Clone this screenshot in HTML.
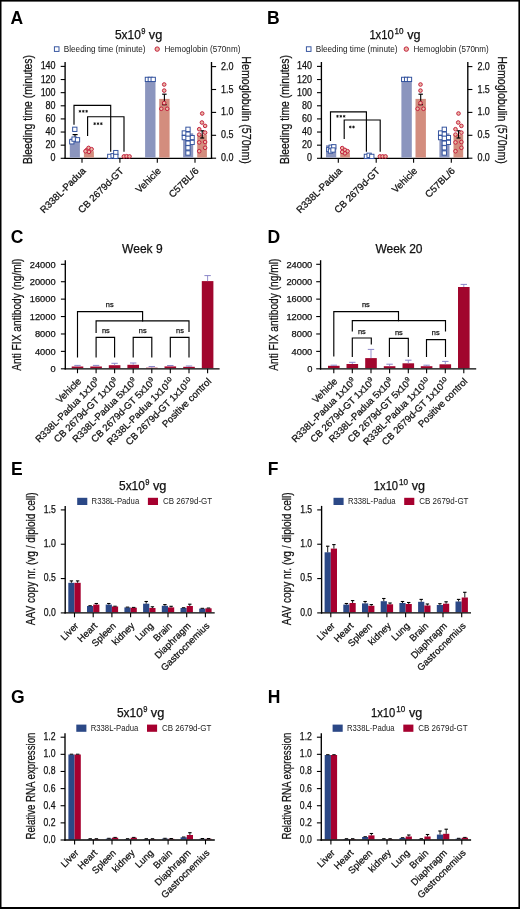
<!DOCTYPE html>
<html><head><meta charset="utf-8"><style>
html,body{margin:0;padding:0;background:#fff;}
svg{display:block;will-change:transform;}
text{font-family:"Liberation Sans", sans-serif;stroke:#111;stroke-width:0.25px;}
text[font-weight=bold]{stroke:none;}
</style></head><body>
<svg width="520" height="909" viewBox="0 0 520 909">
<rect width="520" height="909" fill="#fff"/>
<rect x="0.00" y="0.00" width="520.00" height="1.60" fill="#000"/>
<rect x="0.00" y="0.00" width="1.50" height="909.00" fill="#000"/>
<rect x="518.40" y="0.00" width="1.60" height="909.00" fill="#000"/>
<rect x="0.00" y="907.00" width="520.00" height="2.00" fill="#000"/>
<text x="114.90" y="38.90" font-size="12" text-anchor="start" fill="#111" font-weight="normal" textLength="25.90" lengthAdjust="spacingAndGlyphs">5x10</text>
<text x="141.20" y="33.90" font-size="8.2" text-anchor="start" fill="#111" font-weight="normal" textLength="4.20" lengthAdjust="spacingAndGlyphs">9</text>
<text x="148.80" y="38.90" font-size="12" text-anchor="start" fill="#111" font-weight="normal" textLength="13.50" lengthAdjust="spacingAndGlyphs">vg</text>
<text x="369.40" y="38.90" font-size="12" text-anchor="start" fill="#111" font-weight="normal" textLength="24.30" lengthAdjust="spacingAndGlyphs">1x10</text>
<text x="394.60" y="33.90" font-size="8.2" text-anchor="start" fill="#111" font-weight="normal" textLength="9.00" lengthAdjust="spacingAndGlyphs">10</text>
<text x="407.30" y="38.90" font-size="12" text-anchor="start" fill="#111" font-weight="normal" textLength="13.30" lengthAdjust="spacingAndGlyphs">vg</text>
<text x="119.00" y="489.60" font-size="12" text-anchor="start" fill="#111" font-weight="normal" textLength="25.90" lengthAdjust="spacingAndGlyphs">5x10</text>
<text x="145.30" y="484.60" font-size="8.2" text-anchor="start" fill="#111" font-weight="normal" textLength="4.20" lengthAdjust="spacingAndGlyphs">9</text>
<text x="152.90" y="489.60" font-size="12" text-anchor="start" fill="#111" font-weight="normal" textLength="13.50" lengthAdjust="spacingAndGlyphs">vg</text>
<text x="373.80" y="489.60" font-size="12" text-anchor="start" fill="#111" font-weight="normal" textLength="24.30" lengthAdjust="spacingAndGlyphs">1x10</text>
<text x="399.00" y="484.60" font-size="8.2" text-anchor="start" fill="#111" font-weight="normal" textLength="9.00" lengthAdjust="spacingAndGlyphs">10</text>
<text x="411.70" y="489.60" font-size="12" text-anchor="start" fill="#111" font-weight="normal" textLength="13.30" lengthAdjust="spacingAndGlyphs">vg</text>
<text x="116.90" y="716.90" font-size="12" text-anchor="start" fill="#111" font-weight="normal" textLength="25.90" lengthAdjust="spacingAndGlyphs">5x10</text>
<text x="143.20" y="711.90" font-size="8.2" text-anchor="start" fill="#111" font-weight="normal" textLength="4.20" lengthAdjust="spacingAndGlyphs">9</text>
<text x="150.80" y="716.90" font-size="12" text-anchor="start" fill="#111" font-weight="normal" textLength="13.50" lengthAdjust="spacingAndGlyphs">vg</text>
<text x="371.00" y="717.00" font-size="12" text-anchor="start" fill="#111" font-weight="normal" textLength="24.30" lengthAdjust="spacingAndGlyphs">1x10</text>
<text x="396.20" y="712.00" font-size="8.2" text-anchor="start" fill="#111" font-weight="normal" textLength="9.00" lengthAdjust="spacingAndGlyphs">10</text>
<text x="408.90" y="717.00" font-size="12" text-anchor="start" fill="#111" font-weight="normal" textLength="13.30" lengthAdjust="spacingAndGlyphs">vg</text>
<text x="10.60" y="23.80" font-size="17.5" text-anchor="start" fill="#000" font-weight="bold">A</text>
<text x="0.00" y="38.10" font-size="12" text-anchor="start" fill="#111" font-weight="normal"></text>
<rect x="54.40" y="46.80" width="4.60" height="4.60" fill="#fff" stroke="#2f4f9c" stroke-width="0.95"/>
<text x="63.80" y="51.90" font-size="8.2" text-anchor="start" fill="#222" font-weight="normal" textLength="81.80" lengthAdjust="spacingAndGlyphs" style="stroke:none">Bleeding time (minute)</text>
<circle cx="157.20" cy="49.10" r="2.2" fill="#e9b9a6" stroke="#c41f3c" stroke-width="1.0"/>
<text x="164.40" y="51.90" font-size="8.2" text-anchor="start" fill="#222" font-weight="normal" textLength="76.00" lengthAdjust="spacingAndGlyphs" style="stroke:none">Hemoglobin (570nm)</text>
<line x1="65.10" y1="62.00" x2="65.10" y2="158.90" stroke="#000" stroke-width="1.35"/>
<line x1="60.70" y1="158.30" x2="65.10" y2="158.30" stroke="#000" stroke-width="1.1"/>
<text x="55.60" y="161.30" font-size="10.2" text-anchor="end" fill="#111" font-weight="normal" textLength="4.99" lengthAdjust="spacingAndGlyphs">0</text>
<line x1="60.70" y1="145.17" x2="65.10" y2="145.17" stroke="#000" stroke-width="1.1"/>
<text x="55.60" y="148.17" font-size="10.2" text-anchor="end" fill="#111" font-weight="normal" textLength="9.98" lengthAdjust="spacingAndGlyphs">20</text>
<line x1="60.70" y1="132.04" x2="65.10" y2="132.04" stroke="#000" stroke-width="1.1"/>
<text x="55.60" y="135.04" font-size="10.2" text-anchor="end" fill="#111" font-weight="normal" textLength="9.98" lengthAdjust="spacingAndGlyphs">40</text>
<line x1="60.70" y1="118.91" x2="65.10" y2="118.91" stroke="#000" stroke-width="1.1"/>
<text x="55.60" y="121.91" font-size="10.2" text-anchor="end" fill="#111" font-weight="normal" textLength="9.98" lengthAdjust="spacingAndGlyphs">60</text>
<line x1="60.70" y1="105.79" x2="65.10" y2="105.79" stroke="#000" stroke-width="1.1"/>
<text x="55.60" y="108.79" font-size="10.2" text-anchor="end" fill="#111" font-weight="normal" textLength="9.98" lengthAdjust="spacingAndGlyphs">80</text>
<line x1="60.70" y1="92.66" x2="65.10" y2="92.66" stroke="#000" stroke-width="1.1"/>
<text x="55.60" y="95.66" font-size="10.2" text-anchor="end" fill="#111" font-weight="normal" textLength="14.97" lengthAdjust="spacingAndGlyphs">100</text>
<line x1="60.70" y1="79.53" x2="65.10" y2="79.53" stroke="#000" stroke-width="1.1"/>
<text x="55.60" y="82.53" font-size="10.2" text-anchor="end" fill="#111" font-weight="normal" textLength="14.97" lengthAdjust="spacingAndGlyphs">120</text>
<line x1="60.70" y1="66.40" x2="65.10" y2="66.40" stroke="#000" stroke-width="1.1"/>
<text x="55.60" y="69.40" font-size="10.2" text-anchor="end" fill="#111" font-weight="normal" textLength="14.97" lengthAdjust="spacingAndGlyphs">140</text>
<line x1="211.50" y1="62.00" x2="211.50" y2="158.90" stroke="#000" stroke-width="1.35"/>
<line x1="211.50" y1="158.20" x2="216.10" y2="158.20" stroke="#000" stroke-width="1.1"/>
<text x="221.10" y="161.20" font-size="10.2" text-anchor="start" fill="#111" font-weight="normal" textLength="12.48" lengthAdjust="spacingAndGlyphs">0.0</text>
<line x1="211.50" y1="135.30" x2="216.10" y2="135.30" stroke="#000" stroke-width="1.1"/>
<text x="221.10" y="138.30" font-size="10.2" text-anchor="start" fill="#111" font-weight="normal" textLength="12.48" lengthAdjust="spacingAndGlyphs">0.5</text>
<line x1="211.50" y1="112.40" x2="216.10" y2="112.40" stroke="#000" stroke-width="1.1"/>
<text x="221.10" y="115.40" font-size="10.2" text-anchor="start" fill="#111" font-weight="normal" textLength="12.48" lengthAdjust="spacingAndGlyphs">1.0</text>
<line x1="211.50" y1="89.50" x2="216.10" y2="89.50" stroke="#000" stroke-width="1.1"/>
<text x="221.10" y="92.50" font-size="10.2" text-anchor="start" fill="#111" font-weight="normal" textLength="12.48" lengthAdjust="spacingAndGlyphs">1.5</text>
<line x1="211.50" y1="66.60" x2="216.10" y2="66.60" stroke="#000" stroke-width="1.1"/>
<text x="221.10" y="69.60" font-size="10.2" text-anchor="start" fill="#111" font-weight="normal" textLength="12.48" lengthAdjust="spacingAndGlyphs">2.0</text>
<line x1="64.40" y1="158.30" x2="212.20" y2="158.30" stroke="#000" stroke-width="1.35"/>
<line x1="82.00" y1="158.30" x2="82.00" y2="162.80" stroke="#000" stroke-width="1.1"/>
<line x1="119.90" y1="158.30" x2="119.90" y2="162.80" stroke="#000" stroke-width="1.1"/>
<line x1="157.30" y1="158.30" x2="157.30" y2="162.80" stroke="#000" stroke-width="1.1"/>
<line x1="195.00" y1="158.30" x2="195.00" y2="162.80" stroke="#000" stroke-width="1.1"/>
<text transform="translate(32.30,164.00) rotate(-90)" font-size="12.7" text-anchor="start" fill="#111" font-weight="normal" textLength="109.00" lengthAdjust="spacingAndGlyphs">Bleeding time (minutes)</text>
<text transform="translate(242.40,56.30) rotate(90)" font-size="12.7" text-anchor="start" fill="#111" font-weight="normal" textLength="107.60" lengthAdjust="spacingAndGlyphs">Hemoglobulin (570nm)</text>
<text transform="translate(86.30,171.50) rotate(-45)" font-size="9.7" text-anchor="end" fill="#111" font-weight="normal">R338L-Padua</text>
<text transform="translate(124.20,171.50) rotate(-45)" font-size="9.7" text-anchor="end" fill="#111" font-weight="normal">CB 2679d-GT</text>
<text transform="translate(161.60,171.50) rotate(-45)" font-size="9.7" text-anchor="end" fill="#111" font-weight="normal">Vehicle</text>
<text transform="translate(199.30,171.50) rotate(-45)" font-size="9.7" text-anchor="end" fill="#111" font-weight="normal">C57BL/6</text>
<text x="266.90" y="23.80" font-size="17.5" text-anchor="start" fill="#000" font-weight="bold">B</text>
<text x="256.30" y="38.10" font-size="12" text-anchor="start" fill="#111" font-weight="normal"></text>
<rect x="306.40" y="46.80" width="4.60" height="4.60" fill="#fff" stroke="#2f4f9c" stroke-width="0.95"/>
<text x="315.70" y="51.90" font-size="8.2" text-anchor="start" fill="#222" font-weight="normal" textLength="81.90" lengthAdjust="spacingAndGlyphs" style="stroke:none">Bleeding time (minute)</text>
<circle cx="406.30" cy="49.10" r="2.2" fill="#e9b9a6" stroke="#c41f3c" stroke-width="1.0"/>
<text x="413.40" y="51.90" font-size="8.2" text-anchor="start" fill="#222" font-weight="normal" textLength="75.40" lengthAdjust="spacingAndGlyphs" style="stroke:none">Hemoglobin (570nm)</text>
<line x1="321.40" y1="62.00" x2="321.40" y2="158.90" stroke="#000" stroke-width="1.35"/>
<line x1="317.00" y1="158.30" x2="321.40" y2="158.30" stroke="#000" stroke-width="1.1"/>
<text x="311.90" y="161.30" font-size="10.2" text-anchor="end" fill="#111" font-weight="normal" textLength="4.99" lengthAdjust="spacingAndGlyphs">0</text>
<line x1="317.00" y1="145.17" x2="321.40" y2="145.17" stroke="#000" stroke-width="1.1"/>
<text x="311.90" y="148.17" font-size="10.2" text-anchor="end" fill="#111" font-weight="normal" textLength="9.98" lengthAdjust="spacingAndGlyphs">20</text>
<line x1="317.00" y1="132.04" x2="321.40" y2="132.04" stroke="#000" stroke-width="1.1"/>
<text x="311.90" y="135.04" font-size="10.2" text-anchor="end" fill="#111" font-weight="normal" textLength="9.98" lengthAdjust="spacingAndGlyphs">40</text>
<line x1="317.00" y1="118.91" x2="321.40" y2="118.91" stroke="#000" stroke-width="1.1"/>
<text x="311.90" y="121.91" font-size="10.2" text-anchor="end" fill="#111" font-weight="normal" textLength="9.98" lengthAdjust="spacingAndGlyphs">60</text>
<line x1="317.00" y1="105.79" x2="321.40" y2="105.79" stroke="#000" stroke-width="1.1"/>
<text x="311.90" y="108.79" font-size="10.2" text-anchor="end" fill="#111" font-weight="normal" textLength="9.98" lengthAdjust="spacingAndGlyphs">80</text>
<line x1="317.00" y1="92.66" x2="321.40" y2="92.66" stroke="#000" stroke-width="1.1"/>
<text x="311.90" y="95.66" font-size="10.2" text-anchor="end" fill="#111" font-weight="normal" textLength="14.97" lengthAdjust="spacingAndGlyphs">100</text>
<line x1="317.00" y1="79.53" x2="321.40" y2="79.53" stroke="#000" stroke-width="1.1"/>
<text x="311.90" y="82.53" font-size="10.2" text-anchor="end" fill="#111" font-weight="normal" textLength="14.97" lengthAdjust="spacingAndGlyphs">120</text>
<line x1="317.00" y1="66.40" x2="321.40" y2="66.40" stroke="#000" stroke-width="1.1"/>
<text x="311.90" y="69.40" font-size="10.2" text-anchor="end" fill="#111" font-weight="normal" textLength="14.97" lengthAdjust="spacingAndGlyphs">140</text>
<line x1="467.80" y1="62.00" x2="467.80" y2="158.90" stroke="#000" stroke-width="1.35"/>
<line x1="467.80" y1="158.20" x2="472.40" y2="158.20" stroke="#000" stroke-width="1.1"/>
<text x="477.40" y="161.20" font-size="10.2" text-anchor="start" fill="#111" font-weight="normal" textLength="12.48" lengthAdjust="spacingAndGlyphs">0.0</text>
<line x1="467.80" y1="135.30" x2="472.40" y2="135.30" stroke="#000" stroke-width="1.1"/>
<text x="477.40" y="138.30" font-size="10.2" text-anchor="start" fill="#111" font-weight="normal" textLength="12.48" lengthAdjust="spacingAndGlyphs">0.5</text>
<line x1="467.80" y1="112.40" x2="472.40" y2="112.40" stroke="#000" stroke-width="1.1"/>
<text x="477.40" y="115.40" font-size="10.2" text-anchor="start" fill="#111" font-weight="normal" textLength="12.48" lengthAdjust="spacingAndGlyphs">1.0</text>
<line x1="467.80" y1="89.50" x2="472.40" y2="89.50" stroke="#000" stroke-width="1.1"/>
<text x="477.40" y="92.50" font-size="10.2" text-anchor="start" fill="#111" font-weight="normal" textLength="12.48" lengthAdjust="spacingAndGlyphs">1.5</text>
<line x1="467.80" y1="66.60" x2="472.40" y2="66.60" stroke="#000" stroke-width="1.1"/>
<text x="477.40" y="69.60" font-size="10.2" text-anchor="start" fill="#111" font-weight="normal" textLength="12.48" lengthAdjust="spacingAndGlyphs">2.0</text>
<line x1="320.70" y1="158.30" x2="468.50" y2="158.30" stroke="#000" stroke-width="1.35"/>
<line x1="338.30" y1="158.30" x2="338.30" y2="162.80" stroke="#000" stroke-width="1.1"/>
<line x1="376.20" y1="158.30" x2="376.20" y2="162.80" stroke="#000" stroke-width="1.1"/>
<line x1="413.60" y1="158.30" x2="413.60" y2="162.80" stroke="#000" stroke-width="1.1"/>
<line x1="451.30" y1="158.30" x2="451.30" y2="162.80" stroke="#000" stroke-width="1.1"/>
<text transform="translate(288.60,164.00) rotate(-90)" font-size="12.7" text-anchor="start" fill="#111" font-weight="normal" textLength="109.00" lengthAdjust="spacingAndGlyphs">Bleeding time (minutes)</text>
<text transform="translate(497.60,56.30) rotate(90)" font-size="12.7" text-anchor="start" fill="#111" font-weight="normal" textLength="107.60" lengthAdjust="spacingAndGlyphs">Hemoglobulin (570nm)</text>
<text transform="translate(342.60,171.50) rotate(-45)" font-size="9.7" text-anchor="end" fill="#111" font-weight="normal">R338L-Padua</text>
<text transform="translate(380.50,171.50) rotate(-45)" font-size="9.7" text-anchor="end" fill="#111" font-weight="normal">CB 2679d-GT</text>
<text transform="translate(417.90,171.50) rotate(-45)" font-size="9.7" text-anchor="end" fill="#111" font-weight="normal">Vehicle</text>
<text transform="translate(455.60,171.50) rotate(-45)" font-size="9.7" text-anchor="end" fill="#111" font-weight="normal">C57BL/6</text>
<rect x="69.80" y="138.50" width="10.10" height="19.10" fill="#8b95be"/>
<rect x="83.90" y="151.20" width="10.00" height="6.40" fill="#d38d7e"/>
<rect x="107.60" y="155.30" width="10.00" height="2.30" fill="#8b95be"/>
<rect x="121.60" y="156.60" width="10.00" height="1.00" fill="#d38d7e"/>
<rect x="145.10" y="77.40" width="10.40" height="80.20" fill="#8b95be"/>
<rect x="159.20" y="98.90" width="10.40" height="58.70" fill="#d38d7e"/>
<rect x="183.10" y="133.30" width="10.10" height="24.30" fill="#8b95be"/>
<rect x="197.20" y="134.60" width="9.70" height="23.00" fill="#d38d7e"/>
<polyline points="74.00,124.20 74.00,105.40 110.70,105.40 110.70,151.20" fill="none" stroke="#000" stroke-width="1.15" stroke-linejoin="miter" stroke-linecap="square"/>
<polyline points="87.60,135.50 87.60,116.70 124.00,116.70 124.00,151.20" fill="none" stroke="#000" stroke-width="1.15" stroke-linejoin="miter" stroke-linecap="square"/>
<path d="M79.97,109.95L79.97,112.65M78.80,110.62L81.14,111.97M78.80,111.97L81.14,110.62" stroke="#111" stroke-width="0.85" fill="none"/>
<path d="M83.30,109.95L83.30,112.65M82.13,110.62L84.47,111.97M82.13,111.97L84.47,110.62" stroke="#111" stroke-width="0.85" fill="none"/>
<path d="M86.63,109.95L86.63,112.65M85.46,110.62L87.80,111.97M85.46,111.97L87.80,110.62" stroke="#111" stroke-width="0.85" fill="none"/>
<path d="M94.67,122.35L94.67,125.05M93.50,123.03L95.84,124.38M93.50,124.38L95.84,123.03" stroke="#111" stroke-width="0.85" fill="none"/>
<path d="M98.00,122.35L98.00,125.05M96.83,123.03L99.17,124.38M96.83,124.38L99.17,123.03" stroke="#111" stroke-width="0.85" fill="none"/>
<path d="M101.33,122.35L101.33,125.05M100.16,123.03L102.50,124.38M100.16,124.38L102.50,123.03" stroke="#111" stroke-width="0.85" fill="none"/>
<line x1="75.00" y1="138.50" x2="75.00" y2="134.60" stroke="#000" stroke-width="1.1"/>
<line x1="72.60" y1="134.60" x2="77.60" y2="134.60" stroke="#000" stroke-width="1.2"/>
<rect x="72.65" y="127.15" width="4.30" height="4.30" fill="#fff" stroke="#2f4f9c" stroke-width="0.95"/>
<rect x="69.65" y="139.65" width="4.30" height="4.30" fill="#fff" stroke="#2f4f9c" stroke-width="0.95"/>
<rect x="71.95" y="136.95" width="4.30" height="4.30" fill="#fff" stroke="#2f4f9c" stroke-width="0.95"/>
<rect x="75.35" y="137.65" width="4.30" height="4.30" fill="#fff" stroke="#2f4f9c" stroke-width="0.95"/>
<circle cx="86.90" cy="149.90" r="1.8" fill="#e9b9a6" stroke="#c41f3c" stroke-width="1.0"/>
<circle cx="88.60" cy="147.90" r="1.8" fill="#e9b9a6" stroke="#c41f3c" stroke-width="1.0"/>
<circle cx="91.60" cy="149.20" r="1.8" fill="#e9b9a6" stroke="#c41f3c" stroke-width="1.0"/>
<circle cx="88.90" cy="151.90" r="1.8" fill="#e9b9a6" stroke="#c41f3c" stroke-width="1.0"/>
<circle cx="85.50" cy="151.20" r="1.8" fill="#e9b9a6" stroke="#c41f3c" stroke-width="1.0"/>
<rect x="107.65" y="154.25" width="4.30" height="4.30" fill="#fff" stroke="#2f4f9c" stroke-width="0.95"/>
<rect x="110.95" y="153.65" width="4.30" height="4.30" fill="#fff" stroke="#2f4f9c" stroke-width="0.95"/>
<rect x="113.65" y="150.45" width="4.30" height="4.30" fill="#fff" stroke="#2f4f9c" stroke-width="0.95"/>
<rect x="113.65" y="154.25" width="4.30" height="4.30" fill="#fff" stroke="#2f4f9c" stroke-width="0.95"/>
<circle cx="123.90" cy="156.40" r="1.8" fill="#e9b9a6" stroke="#c41f3c" stroke-width="1.0"/>
<circle cx="126.60" cy="156.20" r="1.8" fill="#e9b9a6" stroke="#c41f3c" stroke-width="1.0"/>
<circle cx="129.50" cy="156.40" r="1.8" fill="#e9b9a6" stroke="#c41f3c" stroke-width="1.0"/>
<rect x="145.25" y="77.25" width="4.30" height="4.30" fill="#fff" stroke="#2f4f9c" stroke-width="0.95"/>
<rect x="148.15" y="77.25" width="4.30" height="4.30" fill="#fff" stroke="#2f4f9c" stroke-width="0.95"/>
<rect x="151.05" y="77.25" width="4.30" height="4.30" fill="#fff" stroke="#2f4f9c" stroke-width="0.95"/>
<line x1="164.40" y1="94.20" x2="164.40" y2="104.70" stroke="#000" stroke-width="1.1"/>
<line x1="162.20" y1="94.20" x2="166.60" y2="94.20" stroke="#000" stroke-width="1.2"/>
<line x1="162.20" y1="104.70" x2="166.60" y2="104.70" stroke="#000" stroke-width="1.2"/>
<circle cx="164.20" cy="84.50" r="1.8" fill="#e9b9a6" stroke="#c41f3c" stroke-width="1.0"/>
<circle cx="164.20" cy="90.60" r="1.8" fill="#e9b9a6" stroke="#c41f3c" stroke-width="1.0"/>
<circle cx="164.20" cy="103.00" r="1.8" fill="#e9b9a6" stroke="#c41f3c" stroke-width="1.0"/>
<circle cx="161.30" cy="108.80" r="1.8" fill="#e9b9a6" stroke="#c41f3c" stroke-width="1.0"/>
<circle cx="167.20" cy="108.80" r="1.8" fill="#e9b9a6" stroke="#c41f3c" stroke-width="1.0"/>
<rect x="182.15" y="130.85" width="4.30" height="4.30" fill="#fff" stroke="#2f4f9c" stroke-width="0.95"/>
<rect x="182.15" y="135.45" width="4.30" height="4.30" fill="#fff" stroke="#2f4f9c" stroke-width="0.95"/>
<rect x="189.95" y="135.45" width="4.30" height="4.30" fill="#fff" stroke="#2f4f9c" stroke-width="0.95"/>
<rect x="189.95" y="140.25" width="4.30" height="4.30" fill="#fff" stroke="#2f4f9c" stroke-width="0.95"/>
<rect x="185.85" y="127.15" width="4.30" height="4.30" fill="#fff" stroke="#2f4f9c" stroke-width="0.95"/>
<rect x="185.85" y="132.05" width="4.30" height="4.30" fill="#fff" stroke="#2f4f9c" stroke-width="0.95"/>
<rect x="185.85" y="136.15" width="4.30" height="4.30" fill="#fff" stroke="#2f4f9c" stroke-width="0.95"/>
<rect x="185.85" y="141.05" width="4.30" height="4.30" fill="#fff" stroke="#2f4f9c" stroke-width="0.95"/>
<rect x="185.85" y="145.65" width="4.30" height="4.30" fill="#fff" stroke="#2f4f9c" stroke-width="0.95"/>
<rect x="185.85" y="150.85" width="4.30" height="4.30" fill="#fff" stroke="#2f4f9c" stroke-width="0.95"/>
<line x1="202.20" y1="130.80" x2="202.20" y2="138.00" stroke="#000" stroke-width="1.1"/>
<line x1="200.20" y1="130.80" x2="204.20" y2="130.80" stroke="#000" stroke-width="1.2"/>
<line x1="200.20" y1="138.00" x2="204.20" y2="138.00" stroke="#000" stroke-width="1.2"/>
<circle cx="202.20" cy="113.50" r="1.8" fill="#e9b9a6" stroke="#c41f3c" stroke-width="1.0"/>
<circle cx="201.90" cy="122.50" r="1.8" fill="#e9b9a6" stroke="#c41f3c" stroke-width="1.0"/>
<circle cx="205.10" cy="125.90" r="1.8" fill="#e9b9a6" stroke="#c41f3c" stroke-width="1.0"/>
<circle cx="199.20" cy="129.20" r="1.8" fill="#e9b9a6" stroke="#c41f3c" stroke-width="1.0"/>
<circle cx="205.10" cy="132.60" r="1.8" fill="#e9b9a6" stroke="#c41f3c" stroke-width="1.0"/>
<circle cx="199.20" cy="134.60" r="1.8" fill="#e9b9a6" stroke="#c41f3c" stroke-width="1.0"/>
<circle cx="199.20" cy="142.40" r="1.8" fill="#e9b9a6" stroke="#c41f3c" stroke-width="1.0"/>
<circle cx="205.10" cy="142.00" r="1.8" fill="#e9b9a6" stroke="#c41f3c" stroke-width="1.0"/>
<circle cx="205.10" cy="147.80" r="1.8" fill="#e9b9a6" stroke="#c41f3c" stroke-width="1.0"/>
<circle cx="199.20" cy="151.20" r="1.8" fill="#e9b9a6" stroke="#c41f3c" stroke-width="1.0"/>
<rect x="326.00" y="145.20" width="10.20" height="12.40" fill="#8b95be"/>
<rect x="340.20" y="152.60" width="9.70" height="5.00" fill="#d38d7e"/>
<rect x="363.90" y="155.80" width="10.00" height="1.80" fill="#8b95be"/>
<rect x="377.90" y="156.80" width="10.00" height="0.80" fill="#d38d7e"/>
<rect x="401.40" y="77.40" width="10.40" height="80.20" fill="#8b95be"/>
<rect x="415.50" y="98.90" width="10.40" height="58.70" fill="#d38d7e"/>
<rect x="439.40" y="133.30" width="10.10" height="24.30" fill="#8b95be"/>
<rect x="453.50" y="134.60" width="9.70" height="23.00" fill="#d38d7e"/>
<polyline points="330.50,140.50 330.50,111.90 366.40,111.90 366.40,151.20" fill="none" stroke="#000" stroke-width="1.15" stroke-linejoin="miter" stroke-linecap="square"/>
<polyline points="344.20,138.50 344.20,120.00 380.20,120.00 380.20,151.20" fill="none" stroke="#000" stroke-width="1.15" stroke-linejoin="miter" stroke-linecap="square"/>
<path d="M337.47,114.95L337.47,117.65M336.30,115.62L338.64,116.97M336.30,116.97L338.64,115.62" stroke="#111" stroke-width="0.85" fill="none"/>
<path d="M340.80,114.95L340.80,117.65M339.63,115.62L341.97,116.97M339.63,116.97L341.97,115.62" stroke="#111" stroke-width="0.85" fill="none"/>
<path d="M344.13,114.95L344.13,117.65M342.96,115.62L345.30,116.97M342.96,116.97L345.30,115.62" stroke="#111" stroke-width="0.85" fill="none"/>
<path d="M350.30,125.65L350.30,128.35M349.13,126.33L351.47,127.67M349.13,127.67L351.47,126.33" stroke="#111" stroke-width="0.85" fill="none"/>
<path d="M353.50,125.65L353.50,128.35M352.33,126.33L354.67,127.67M352.33,127.67L354.67,126.33" stroke="#111" stroke-width="0.85" fill="none"/>
<rect x="326.65" y="147.35" width="4.30" height="4.30" fill="#fff" stroke="#2f4f9c" stroke-width="0.95"/>
<rect x="329.05" y="145.05" width="4.30" height="4.30" fill="#fff" stroke="#2f4f9c" stroke-width="0.95"/>
<rect x="331.65" y="144.65" width="4.30" height="4.30" fill="#fff" stroke="#2f4f9c" stroke-width="0.95"/>
<rect x="328.35" y="148.85" width="4.30" height="4.30" fill="#fff" stroke="#2f4f9c" stroke-width="0.95"/>
<rect x="330.85" y="147.85" width="4.30" height="4.30" fill="#fff" stroke="#2f4f9c" stroke-width="0.95"/>
<circle cx="342.20" cy="148.10" r="1.8" fill="#e9b9a6" stroke="#c41f3c" stroke-width="1.0"/>
<circle cx="344.90" cy="149.90" r="1.8" fill="#e9b9a6" stroke="#c41f3c" stroke-width="1.0"/>
<circle cx="347.60" cy="151.20" r="1.8" fill="#e9b9a6" stroke="#c41f3c" stroke-width="1.0"/>
<circle cx="344.90" cy="153.30" r="1.8" fill="#e9b9a6" stroke="#c41f3c" stroke-width="1.0"/>
<circle cx="342.20" cy="151.90" r="1.8" fill="#e9b9a6" stroke="#c41f3c" stroke-width="1.0"/>
<rect x="364.25" y="154.25" width="4.30" height="4.30" fill="#fff" stroke="#2f4f9c" stroke-width="0.95"/>
<rect x="366.95" y="153.15" width="4.30" height="4.30" fill="#fff" stroke="#2f4f9c" stroke-width="0.95"/>
<rect x="369.65" y="154.25" width="4.30" height="4.30" fill="#fff" stroke="#2f4f9c" stroke-width="0.95"/>
<circle cx="379.90" cy="156.40" r="1.8" fill="#e9b9a6" stroke="#c41f3c" stroke-width="1.0"/>
<circle cx="382.60" cy="156.40" r="1.8" fill="#e9b9a6" stroke="#c41f3c" stroke-width="1.0"/>
<circle cx="385.50" cy="156.40" r="1.8" fill="#e9b9a6" stroke="#c41f3c" stroke-width="1.0"/>
<rect x="401.55" y="77.25" width="4.30" height="4.30" fill="#fff" stroke="#2f4f9c" stroke-width="0.95"/>
<rect x="404.45" y="77.25" width="4.30" height="4.30" fill="#fff" stroke="#2f4f9c" stroke-width="0.95"/>
<rect x="407.35" y="77.25" width="4.30" height="4.30" fill="#fff" stroke="#2f4f9c" stroke-width="0.95"/>
<line x1="420.70" y1="94.20" x2="420.70" y2="104.70" stroke="#000" stroke-width="1.1"/>
<line x1="418.50" y1="94.20" x2="422.90" y2="94.20" stroke="#000" stroke-width="1.2"/>
<line x1="418.50" y1="104.70" x2="422.90" y2="104.70" stroke="#000" stroke-width="1.2"/>
<circle cx="420.50" cy="84.50" r="1.8" fill="#e9b9a6" stroke="#c41f3c" stroke-width="1.0"/>
<circle cx="420.50" cy="90.60" r="1.8" fill="#e9b9a6" stroke="#c41f3c" stroke-width="1.0"/>
<circle cx="420.50" cy="103.00" r="1.8" fill="#e9b9a6" stroke="#c41f3c" stroke-width="1.0"/>
<circle cx="417.60" cy="108.80" r="1.8" fill="#e9b9a6" stroke="#c41f3c" stroke-width="1.0"/>
<circle cx="423.50" cy="108.80" r="1.8" fill="#e9b9a6" stroke="#c41f3c" stroke-width="1.0"/>
<rect x="438.45" y="130.85" width="4.30" height="4.30" fill="#fff" stroke="#2f4f9c" stroke-width="0.95"/>
<rect x="438.45" y="135.45" width="4.30" height="4.30" fill="#fff" stroke="#2f4f9c" stroke-width="0.95"/>
<rect x="446.25" y="135.45" width="4.30" height="4.30" fill="#fff" stroke="#2f4f9c" stroke-width="0.95"/>
<rect x="446.25" y="140.25" width="4.30" height="4.30" fill="#fff" stroke="#2f4f9c" stroke-width="0.95"/>
<rect x="442.15" y="127.15" width="4.30" height="4.30" fill="#fff" stroke="#2f4f9c" stroke-width="0.95"/>
<rect x="442.15" y="132.05" width="4.30" height="4.30" fill="#fff" stroke="#2f4f9c" stroke-width="0.95"/>
<rect x="442.15" y="136.15" width="4.30" height="4.30" fill="#fff" stroke="#2f4f9c" stroke-width="0.95"/>
<rect x="442.15" y="141.05" width="4.30" height="4.30" fill="#fff" stroke="#2f4f9c" stroke-width="0.95"/>
<rect x="442.15" y="145.65" width="4.30" height="4.30" fill="#fff" stroke="#2f4f9c" stroke-width="0.95"/>
<rect x="442.15" y="150.85" width="4.30" height="4.30" fill="#fff" stroke="#2f4f9c" stroke-width="0.95"/>
<line x1="458.50" y1="130.80" x2="458.50" y2="138.00" stroke="#000" stroke-width="1.1"/>
<line x1="456.50" y1="130.80" x2="460.50" y2="130.80" stroke="#000" stroke-width="1.2"/>
<line x1="456.50" y1="138.00" x2="460.50" y2="138.00" stroke="#000" stroke-width="1.2"/>
<circle cx="458.50" cy="113.50" r="1.8" fill="#e9b9a6" stroke="#c41f3c" stroke-width="1.0"/>
<circle cx="458.20" cy="122.50" r="1.8" fill="#e9b9a6" stroke="#c41f3c" stroke-width="1.0"/>
<circle cx="461.40" cy="125.90" r="1.8" fill="#e9b9a6" stroke="#c41f3c" stroke-width="1.0"/>
<circle cx="455.50" cy="129.20" r="1.8" fill="#e9b9a6" stroke="#c41f3c" stroke-width="1.0"/>
<circle cx="461.40" cy="132.60" r="1.8" fill="#e9b9a6" stroke="#c41f3c" stroke-width="1.0"/>
<circle cx="455.50" cy="134.60" r="1.8" fill="#e9b9a6" stroke="#c41f3c" stroke-width="1.0"/>
<circle cx="455.50" cy="142.40" r="1.8" fill="#e9b9a6" stroke="#c41f3c" stroke-width="1.0"/>
<circle cx="461.40" cy="142.00" r="1.8" fill="#e9b9a6" stroke="#c41f3c" stroke-width="1.0"/>
<circle cx="461.40" cy="147.80" r="1.8" fill="#e9b9a6" stroke="#c41f3c" stroke-width="1.0"/>
<circle cx="455.50" cy="151.20" r="1.8" fill="#e9b9a6" stroke="#c41f3c" stroke-width="1.0"/>
<text x="10.80" y="242.60" font-size="17.5" text-anchor="start" fill="#000" font-weight="bold">C</text>
<text x="122.10" y="253.30" font-size="12" text-anchor="start" fill="#111" font-weight="normal">Week 9</text>
<rect x="71.70" y="366.50" width="11.60" height="1.70" fill="#a1062d"/>
<line x1="77.50" y1="365.40" x2="77.50" y2="366.50" stroke="#8a86c8" stroke-width="0.9"/>
<line x1="74.30" y1="365.40" x2="80.70" y2="365.40" stroke="#8a86c8" stroke-width="1.0"/>
<rect x="90.30" y="366.50" width="11.60" height="1.70" fill="#a1062d"/>
<line x1="96.10" y1="365.40" x2="96.10" y2="366.50" stroke="#8a86c8" stroke-width="0.9"/>
<line x1="92.90" y1="365.40" x2="99.30" y2="365.40" stroke="#8a86c8" stroke-width="1.0"/>
<rect x="108.80" y="365.20" width="11.60" height="3.00" fill="#a1062d"/>
<line x1="114.60" y1="363.30" x2="114.60" y2="365.20" stroke="#8a86c8" stroke-width="0.9"/>
<line x1="111.40" y1="363.30" x2="117.80" y2="363.30" stroke="#8a86c8" stroke-width="1.0"/>
<rect x="127.40" y="364.80" width="11.60" height="3.40" fill="#a1062d"/>
<line x1="133.20" y1="363.00" x2="133.20" y2="364.80" stroke="#8a86c8" stroke-width="0.9"/>
<line x1="130.00" y1="363.00" x2="136.40" y2="363.00" stroke="#8a86c8" stroke-width="1.0"/>
<rect x="146.00" y="367.70" width="11.60" height="0.50" fill="#a1062d"/>
<line x1="151.80" y1="366.50" x2="151.80" y2="367.70" stroke="#8a86c8" stroke-width="0.9"/>
<line x1="148.60" y1="366.50" x2="155.00" y2="366.50" stroke="#8a86c8" stroke-width="1.0"/>
<rect x="164.50" y="366.40" width="11.60" height="1.80" fill="#a1062d"/>
<line x1="170.30" y1="365.50" x2="170.30" y2="366.40" stroke="#8a86c8" stroke-width="0.9"/>
<line x1="167.10" y1="365.50" x2="173.50" y2="365.50" stroke="#8a86c8" stroke-width="1.0"/>
<rect x="183.20" y="366.80" width="11.60" height="1.40" fill="#a1062d"/>
<line x1="189.00" y1="366.00" x2="189.00" y2="366.80" stroke="#8a86c8" stroke-width="0.9"/>
<line x1="185.80" y1="366.00" x2="192.20" y2="366.00" stroke="#8a86c8" stroke-width="1.0"/>
<rect x="201.80" y="281.10" width="11.60" height="87.10" fill="#a1062d"/>
<line x1="207.60" y1="275.60" x2="207.60" y2="281.10" stroke="#8a86c8" stroke-width="0.9"/>
<line x1="204.40" y1="275.60" x2="210.80" y2="275.60" stroke="#8a86c8" stroke-width="1.0"/>
<line x1="65.30" y1="260.20" x2="65.30" y2="369.50" stroke="#000" stroke-width="1.35"/>
<line x1="60.90" y1="368.80" x2="65.30" y2="368.80" stroke="#000" stroke-width="1.1"/>
<text x="55.60" y="372.00" font-size="9.3" text-anchor="end" fill="#111" font-weight="normal" textLength="5.17" lengthAdjust="spacingAndGlyphs">0</text>
<line x1="60.90" y1="351.38" x2="65.30" y2="351.38" stroke="#000" stroke-width="1.1"/>
<text x="55.60" y="354.58" font-size="9.3" text-anchor="end" fill="#111" font-weight="normal" textLength="20.69" lengthAdjust="spacingAndGlyphs">4000</text>
<line x1="60.90" y1="333.97" x2="65.30" y2="333.97" stroke="#000" stroke-width="1.1"/>
<text x="55.60" y="337.17" font-size="9.3" text-anchor="end" fill="#111" font-weight="normal" textLength="20.69" lengthAdjust="spacingAndGlyphs">8000</text>
<line x1="60.90" y1="316.55" x2="65.30" y2="316.55" stroke="#000" stroke-width="1.1"/>
<text x="55.60" y="319.75" font-size="9.3" text-anchor="end" fill="#111" font-weight="normal" textLength="25.86" lengthAdjust="spacingAndGlyphs">12000</text>
<line x1="60.90" y1="299.13" x2="65.30" y2="299.13" stroke="#000" stroke-width="1.1"/>
<text x="55.60" y="302.33" font-size="9.3" text-anchor="end" fill="#111" font-weight="normal" textLength="25.86" lengthAdjust="spacingAndGlyphs">16000</text>
<line x1="60.90" y1="281.72" x2="65.30" y2="281.72" stroke="#000" stroke-width="1.1"/>
<text x="55.60" y="284.92" font-size="9.3" text-anchor="end" fill="#111" font-weight="normal" textLength="25.86" lengthAdjust="spacingAndGlyphs">20000</text>
<line x1="60.90" y1="264.30" x2="65.30" y2="264.30" stroke="#000" stroke-width="1.1"/>
<text x="55.60" y="267.50" font-size="9.3" text-anchor="end" fill="#111" font-weight="normal" textLength="25.86" lengthAdjust="spacingAndGlyphs">24000</text>
<line x1="64.60" y1="368.80" x2="219.60" y2="368.80" stroke="#000" stroke-width="1.35"/>
<line x1="77.50" y1="368.80" x2="77.50" y2="373.20" stroke="#000" stroke-width="1.1"/>
<line x1="96.10" y1="368.80" x2="96.10" y2="373.20" stroke="#000" stroke-width="1.1"/>
<line x1="114.60" y1="368.80" x2="114.60" y2="373.20" stroke="#000" stroke-width="1.1"/>
<line x1="133.20" y1="368.80" x2="133.20" y2="373.20" stroke="#000" stroke-width="1.1"/>
<line x1="151.80" y1="368.80" x2="151.80" y2="373.20" stroke="#000" stroke-width="1.1"/>
<line x1="170.30" y1="368.80" x2="170.30" y2="373.20" stroke="#000" stroke-width="1.1"/>
<line x1="189.00" y1="368.80" x2="189.00" y2="373.20" stroke="#000" stroke-width="1.1"/>
<line x1="207.60" y1="368.80" x2="207.60" y2="373.20" stroke="#000" stroke-width="1.1"/>
<polyline points="77.50,357.00 77.50,311.60 142.60,311.60 142.60,320.90" fill="none" stroke="#000" stroke-width="1.15" stroke-linejoin="miter" stroke-linecap="square"/>
<polyline points="96.10,332.50 96.10,320.90 189.00,320.90 189.00,331.30" fill="none" stroke="#000" stroke-width="1.15" stroke-linejoin="miter" stroke-linecap="square"/>
<polyline points="96.10,357.00 96.10,337.40 114.60,337.40 114.60,357.00" fill="none" stroke="#000" stroke-width="1.15" stroke-linejoin="miter" stroke-linecap="square"/>
<polyline points="133.20,357.00 133.20,337.40 151.80,337.40 151.80,357.00" fill="none" stroke="#000" stroke-width="1.15" stroke-linejoin="miter" stroke-linecap="square"/>
<polyline points="170.30,357.00 170.30,337.40 189.00,337.40 189.00,357.00" fill="none" stroke="#000" stroke-width="1.15" stroke-linejoin="miter" stroke-linecap="square"/>
<text x="109.70" y="306.90" font-size="7.4" text-anchor="middle" fill="#111" font-weight="normal">ns</text>
<text x="105.80" y="333.20" font-size="7.4" text-anchor="middle" fill="#111" font-weight="normal">ns</text>
<text x="142.70" y="333.20" font-size="7.4" text-anchor="middle" fill="#111" font-weight="normal">ns</text>
<text x="180.00" y="333.20" font-size="7.4" text-anchor="middle" fill="#111" font-weight="normal">ns</text>
<text transform="translate(21.20,370.80) rotate(-90)" font-size="12.7" text-anchor="start" fill="#111" font-weight="normal" textLength="112.20" lengthAdjust="spacingAndGlyphs">Anti FIX antibody (ng/ml)</text>
<text transform="translate(81.80,381.90) rotate(-45)" font-size="9.6" text-anchor="end" fill="#111" font-weight="normal">Vehicle</text>
<text transform="translate(100.40,381.90) rotate(-45)" font-size="9.6" text-anchor="end" fill="#111" font-weight="normal">R338L-Padua 1x10<tspan dy="-3.4" font-size="6.9">9</tspan></text>
<text transform="translate(118.90,381.90) rotate(-45)" font-size="9.6" text-anchor="end" fill="#111" font-weight="normal">CB 2679d-GT 1x10<tspan dy="-3.4" font-size="6.9">9</tspan></text>
<text transform="translate(137.50,381.90) rotate(-45)" font-size="9.6" text-anchor="end" fill="#111" font-weight="normal">R338L-Padua 5x10<tspan dy="-3.4" font-size="6.9">9</tspan></text>
<text transform="translate(156.10,381.90) rotate(-45)" font-size="9.6" text-anchor="end" fill="#111" font-weight="normal">CB 2679d-GT 5x10<tspan dy="-3.4" font-size="6.9">9</tspan></text>
<text transform="translate(174.60,381.90) rotate(-45)" font-size="9.6" text-anchor="end" fill="#111" font-weight="normal">R338L-Padua 1x10<tspan dy="-3.4" font-size="6.9">10</tspan></text>
<text transform="translate(193.30,381.90) rotate(-45)" font-size="9.6" text-anchor="end" fill="#111" font-weight="normal">CB 2679d-GT 1x10<tspan dy="-3.4" font-size="6.9">10</tspan></text>
<text transform="translate(211.90,381.90) rotate(-45)" font-size="9.6" text-anchor="end" fill="#111" font-weight="normal">Positive control</text>
<text x="267.60" y="242.60" font-size="17.5" text-anchor="start" fill="#000" font-weight="bold">D</text>
<text x="375.40" y="253.30" font-size="12" text-anchor="start" fill="#111" font-weight="normal">Week 20</text>
<rect x="328.00" y="365.80" width="11.60" height="2.40" fill="#a1062d"/>
<line x1="333.80" y1="365.20" x2="333.80" y2="365.80" stroke="#8a86c8" stroke-width="0.9"/>
<line x1="330.60" y1="365.20" x2="337.00" y2="365.20" stroke="#8a86c8" stroke-width="1.0"/>
<rect x="346.50" y="364.00" width="11.60" height="4.20" fill="#a1062d"/>
<line x1="352.30" y1="362.30" x2="352.30" y2="364.00" stroke="#8a86c8" stroke-width="0.9"/>
<line x1="349.10" y1="362.30" x2="355.50" y2="362.30" stroke="#8a86c8" stroke-width="1.0"/>
<rect x="365.20" y="358.10" width="11.60" height="10.10" fill="#a1062d"/>
<line x1="371.00" y1="349.40" x2="371.00" y2="358.10" stroke="#8a86c8" stroke-width="0.9"/>
<line x1="367.80" y1="349.40" x2="374.20" y2="349.40" stroke="#8a86c8" stroke-width="1.0"/>
<rect x="383.80" y="366.20" width="11.60" height="2.00" fill="#a1062d"/>
<line x1="389.60" y1="364.20" x2="389.60" y2="366.20" stroke="#8a86c8" stroke-width="0.9"/>
<line x1="386.40" y1="364.20" x2="392.80" y2="364.20" stroke="#8a86c8" stroke-width="1.0"/>
<rect x="402.50" y="363.30" width="11.60" height="4.90" fill="#a1062d"/>
<line x1="408.30" y1="360.20" x2="408.30" y2="363.30" stroke="#8a86c8" stroke-width="0.9"/>
<line x1="405.10" y1="360.20" x2="411.50" y2="360.20" stroke="#8a86c8" stroke-width="1.0"/>
<rect x="420.80" y="366.20" width="11.60" height="2.00" fill="#a1062d"/>
<line x1="426.60" y1="365.20" x2="426.60" y2="366.20" stroke="#8a86c8" stroke-width="0.9"/>
<line x1="423.40" y1="365.20" x2="429.80" y2="365.20" stroke="#8a86c8" stroke-width="1.0"/>
<rect x="439.50" y="364.30" width="11.60" height="3.90" fill="#a1062d"/>
<line x1="445.30" y1="361.40" x2="445.30" y2="364.30" stroke="#8a86c8" stroke-width="0.9"/>
<line x1="442.10" y1="361.40" x2="448.50" y2="361.40" stroke="#8a86c8" stroke-width="1.0"/>
<rect x="458.00" y="287.00" width="11.60" height="81.20" fill="#a1062d"/>
<line x1="463.80" y1="284.40" x2="463.80" y2="287.00" stroke="#8a86c8" stroke-width="0.9"/>
<line x1="460.60" y1="284.40" x2="467.00" y2="284.40" stroke="#8a86c8" stroke-width="1.0"/>
<line x1="320.60" y1="260.20" x2="320.60" y2="369.50" stroke="#000" stroke-width="1.35"/>
<line x1="316.20" y1="368.80" x2="320.60" y2="368.80" stroke="#000" stroke-width="1.1"/>
<text x="312.30" y="372.00" font-size="9.3" text-anchor="end" fill="#111" font-weight="normal" textLength="5.17" lengthAdjust="spacingAndGlyphs">0</text>
<line x1="316.20" y1="351.38" x2="320.60" y2="351.38" stroke="#000" stroke-width="1.1"/>
<text x="312.30" y="354.58" font-size="9.3" text-anchor="end" fill="#111" font-weight="normal" textLength="20.69" lengthAdjust="spacingAndGlyphs">4000</text>
<line x1="316.20" y1="333.97" x2="320.60" y2="333.97" stroke="#000" stroke-width="1.1"/>
<text x="312.30" y="337.17" font-size="9.3" text-anchor="end" fill="#111" font-weight="normal" textLength="20.69" lengthAdjust="spacingAndGlyphs">8000</text>
<line x1="316.20" y1="316.55" x2="320.60" y2="316.55" stroke="#000" stroke-width="1.1"/>
<text x="312.30" y="319.75" font-size="9.3" text-anchor="end" fill="#111" font-weight="normal" textLength="25.86" lengthAdjust="spacingAndGlyphs">12000</text>
<line x1="316.20" y1="299.13" x2="320.60" y2="299.13" stroke="#000" stroke-width="1.1"/>
<text x="312.30" y="302.33" font-size="9.3" text-anchor="end" fill="#111" font-weight="normal" textLength="25.86" lengthAdjust="spacingAndGlyphs">16000</text>
<line x1="316.20" y1="281.72" x2="320.60" y2="281.72" stroke="#000" stroke-width="1.1"/>
<text x="312.30" y="284.92" font-size="9.3" text-anchor="end" fill="#111" font-weight="normal" textLength="25.86" lengthAdjust="spacingAndGlyphs">20000</text>
<line x1="316.20" y1="264.30" x2="320.60" y2="264.30" stroke="#000" stroke-width="1.1"/>
<text x="312.30" y="267.50" font-size="9.3" text-anchor="end" fill="#111" font-weight="normal" textLength="25.86" lengthAdjust="spacingAndGlyphs">24000</text>
<line x1="319.90" y1="368.80" x2="476.20" y2="368.80" stroke="#000" stroke-width="1.35"/>
<line x1="333.80" y1="368.80" x2="333.80" y2="373.20" stroke="#000" stroke-width="1.1"/>
<line x1="352.30" y1="368.80" x2="352.30" y2="373.20" stroke="#000" stroke-width="1.1"/>
<line x1="371.00" y1="368.80" x2="371.00" y2="373.20" stroke="#000" stroke-width="1.1"/>
<line x1="389.60" y1="368.80" x2="389.60" y2="373.20" stroke="#000" stroke-width="1.1"/>
<line x1="408.30" y1="368.80" x2="408.30" y2="373.20" stroke="#000" stroke-width="1.1"/>
<line x1="426.60" y1="368.80" x2="426.60" y2="373.20" stroke="#000" stroke-width="1.1"/>
<line x1="445.30" y1="368.80" x2="445.30" y2="373.20" stroke="#000" stroke-width="1.1"/>
<line x1="463.80" y1="368.80" x2="463.80" y2="373.20" stroke="#000" stroke-width="1.1"/>
<polyline points="333.80,356.00 333.80,311.60 398.50,311.60 398.50,320.60" fill="none" stroke="#000" stroke-width="1.15" stroke-linejoin="miter" stroke-linecap="square"/>
<polyline points="352.30,331.00 352.30,320.60 445.50,320.60 445.50,331.00" fill="none" stroke="#000" stroke-width="1.15" stroke-linejoin="miter" stroke-linecap="square"/>
<polyline points="352.30,356.50 352.30,338.00 371.30,338.00 371.30,343.80" fill="none" stroke="#000" stroke-width="1.15" stroke-linejoin="miter" stroke-linecap="square"/>
<polyline points="389.40,356.50 389.40,338.40 408.30,338.40 408.30,356.50" fill="none" stroke="#000" stroke-width="1.15" stroke-linejoin="miter" stroke-linecap="square"/>
<polyline points="426.50,356.50 426.50,339.60 445.50,339.60 445.50,356.50" fill="none" stroke="#000" stroke-width="1.15" stroke-linejoin="miter" stroke-linecap="square"/>
<text x="365.80" y="306.90" font-size="7.4" text-anchor="middle" fill="#111" font-weight="normal">ns</text>
<text x="361.80" y="333.70" font-size="7.4" text-anchor="middle" fill="#111" font-weight="normal">ns</text>
<text x="398.80" y="334.70" font-size="7.4" text-anchor="middle" fill="#111" font-weight="normal">ns</text>
<text x="435.70" y="335.00" font-size="7.4" text-anchor="middle" fill="#111" font-weight="normal">ns</text>
<text transform="translate(277.50,370.80) rotate(-90)" font-size="12.7" text-anchor="start" fill="#111" font-weight="normal" textLength="112.20" lengthAdjust="spacingAndGlyphs">Anti FIX antibody (ng/ml)</text>
<text transform="translate(338.10,381.90) rotate(-45)" font-size="9.6" text-anchor="end" fill="#111" font-weight="normal">Vehicle</text>
<text transform="translate(356.60,381.90) rotate(-45)" font-size="9.6" text-anchor="end" fill="#111" font-weight="normal">R338L-Padua 1x10<tspan dy="-3.4" font-size="6.9">9</tspan></text>
<text transform="translate(375.30,381.90) rotate(-45)" font-size="9.6" text-anchor="end" fill="#111" font-weight="normal">CB 2679d-GT 1x10<tspan dy="-3.4" font-size="6.9">9</tspan></text>
<text transform="translate(393.90,381.90) rotate(-45)" font-size="9.6" text-anchor="end" fill="#111" font-weight="normal">R338L-Padua 5x10<tspan dy="-3.4" font-size="6.9">9</tspan></text>
<text transform="translate(412.60,381.90) rotate(-45)" font-size="9.6" text-anchor="end" fill="#111" font-weight="normal">CB 2679d-GT 5x10<tspan dy="-3.4" font-size="6.9">9</tspan></text>
<text transform="translate(430.90,381.90) rotate(-45)" font-size="9.6" text-anchor="end" fill="#111" font-weight="normal">R338L-Padua 1x10<tspan dy="-3.4" font-size="6.9">10</tspan></text>
<text transform="translate(449.60,381.90) rotate(-45)" font-size="9.6" text-anchor="end" fill="#111" font-weight="normal">CB 2679d-GT 1x10<tspan dy="-3.4" font-size="6.9">10</tspan></text>
<text transform="translate(468.10,381.90) rotate(-45)" font-size="9.6" text-anchor="end" fill="#111" font-weight="normal">Positive control</text>
<text x="11.00" y="475.00" font-size="17.5" text-anchor="start" fill="#000" font-weight="bold">E</text>
<rect x="77.20" y="497.80" width="10.10" height="7.20" fill="#2b4886"/>
<text x="91.60" y="504.10" font-size="8.2" text-anchor="start" fill="#222" font-weight="normal" textLength="47.60" lengthAdjust="spacingAndGlyphs" style="stroke:none">R338L-Padua</text>
<rect x="147.90" y="497.80" width="10.10" height="7.20" fill="#a6002f"/>
<text x="162.90" y="504.10" font-size="8.2" text-anchor="start" fill="#222" font-weight="normal" textLength="49.30" lengthAdjust="spacingAndGlyphs" style="stroke:none">CB 2679d-GT</text>
<rect x="68.30" y="582.80" width="6.20" height="29.50" fill="#2b4886"/>
<line x1="71.40" y1="580.90" x2="71.40" y2="582.80" stroke="#000" stroke-width="0.9"/>
<line x1="69.70" y1="580.90" x2="73.10" y2="580.90" stroke="#000" stroke-width="1.1"/>
<rect x="74.50" y="582.80" width="6.20" height="29.50" fill="#a6002f"/>
<line x1="77.60" y1="580.90" x2="77.60" y2="582.80" stroke="#000" stroke-width="0.9"/>
<line x1="75.90" y1="580.90" x2="79.30" y2="580.90" stroke="#000" stroke-width="1.1"/>
<rect x="87.00" y="606.00" width="6.20" height="6.30" fill="#2b4886"/>
<line x1="88.40" y1="605.70" x2="91.80" y2="605.70" stroke="#000" stroke-width="1.0"/>
<rect x="93.20" y="604.60" width="6.20" height="7.70" fill="#a6002f"/>
<line x1="96.30" y1="603.50" x2="96.30" y2="604.60" stroke="#000" stroke-width="0.9"/>
<line x1="94.60" y1="603.50" x2="98.00" y2="603.50" stroke="#000" stroke-width="1.1"/>
<rect x="105.70" y="604.60" width="6.20" height="7.70" fill="#2b4886"/>
<line x1="108.80" y1="603.50" x2="108.80" y2="604.60" stroke="#000" stroke-width="0.9"/>
<line x1="107.10" y1="603.50" x2="110.50" y2="603.50" stroke="#000" stroke-width="1.1"/>
<rect x="111.90" y="606.50" width="6.20" height="5.80" fill="#a6002f"/>
<line x1="113.30" y1="606.20" x2="116.70" y2="606.20" stroke="#000" stroke-width="1.0"/>
<rect x="124.40" y="607.40" width="6.20" height="4.90" fill="#2b4886"/>
<line x1="125.80" y1="607.10" x2="129.20" y2="607.10" stroke="#000" stroke-width="1.0"/>
<rect x="130.60" y="607.70" width="6.20" height="4.60" fill="#a6002f"/>
<line x1="132.00" y1="607.40" x2="135.40" y2="607.40" stroke="#000" stroke-width="1.0"/>
<rect x="143.10" y="603.70" width="6.20" height="8.60" fill="#2b4886"/>
<line x1="146.20" y1="601.50" x2="146.20" y2="603.70" stroke="#000" stroke-width="0.9"/>
<line x1="144.50" y1="601.50" x2="147.90" y2="601.50" stroke="#000" stroke-width="1.1"/>
<rect x="149.30" y="608.00" width="6.20" height="4.30" fill="#a6002f"/>
<line x1="152.40" y1="606.80" x2="152.40" y2="608.00" stroke="#000" stroke-width="0.9"/>
<line x1="150.70" y1="606.80" x2="154.10" y2="606.80" stroke="#000" stroke-width="1.1"/>
<rect x="161.80" y="605.80" width="6.20" height="6.50" fill="#2b4886"/>
<line x1="164.90" y1="604.60" x2="164.90" y2="605.80" stroke="#000" stroke-width="0.9"/>
<line x1="163.20" y1="604.60" x2="166.60" y2="604.60" stroke="#000" stroke-width="1.1"/>
<rect x="168.00" y="607.40" width="6.20" height="4.90" fill="#a6002f"/>
<line x1="171.10" y1="606.30" x2="171.10" y2="607.40" stroke="#000" stroke-width="0.9"/>
<line x1="169.40" y1="606.30" x2="172.80" y2="606.30" stroke="#000" stroke-width="1.1"/>
<rect x="180.50" y="608.00" width="6.20" height="4.30" fill="#2b4886"/>
<line x1="181.90" y1="607.70" x2="185.30" y2="607.70" stroke="#000" stroke-width="1.0"/>
<rect x="186.70" y="606.00" width="6.20" height="6.30" fill="#a6002f"/>
<line x1="189.80" y1="604.20" x2="189.80" y2="606.00" stroke="#000" stroke-width="0.9"/>
<line x1="188.10" y1="604.20" x2="191.50" y2="604.20" stroke="#000" stroke-width="1.1"/>
<rect x="199.20" y="608.60" width="6.20" height="3.70" fill="#2b4886"/>
<line x1="200.60" y1="608.30" x2="204.00" y2="608.30" stroke="#000" stroke-width="1.0"/>
<rect x="205.40" y="608.30" width="6.20" height="4.00" fill="#a6002f"/>
<line x1="206.80" y1="608.00" x2="210.20" y2="608.00" stroke="#000" stroke-width="1.0"/>
<line x1="65.20" y1="505.90" x2="65.20" y2="613.60" stroke="#000" stroke-width="1.35"/>
<line x1="60.80" y1="612.90" x2="65.20" y2="612.90" stroke="#000" stroke-width="1.1"/>
<text x="55.80" y="615.80" font-size="10.2" text-anchor="end" fill="#111" font-weight="normal" textLength="12.05" lengthAdjust="spacingAndGlyphs">0.0</text>
<line x1="60.80" y1="578.57" x2="65.20" y2="578.57" stroke="#000" stroke-width="1.1"/>
<text x="55.80" y="581.47" font-size="10.2" text-anchor="end" fill="#111" font-weight="normal" textLength="12.05" lengthAdjust="spacingAndGlyphs">0.5</text>
<line x1="60.80" y1="544.23" x2="65.20" y2="544.23" stroke="#000" stroke-width="1.1"/>
<text x="55.80" y="547.13" font-size="10.2" text-anchor="end" fill="#111" font-weight="normal" textLength="12.05" lengthAdjust="spacingAndGlyphs">1.0</text>
<line x1="60.80" y1="509.90" x2="65.20" y2="509.90" stroke="#000" stroke-width="1.1"/>
<text x="55.80" y="512.80" font-size="10.2" text-anchor="end" fill="#111" font-weight="normal" textLength="12.05" lengthAdjust="spacingAndGlyphs">1.5</text>
<line x1="64.50" y1="612.90" x2="214.70" y2="612.90" stroke="#000" stroke-width="1.35"/>
<line x1="74.50" y1="612.90" x2="74.50" y2="617.30" stroke="#000" stroke-width="1.1"/>
<line x1="93.20" y1="612.90" x2="93.20" y2="617.30" stroke="#000" stroke-width="1.1"/>
<line x1="111.90" y1="612.90" x2="111.90" y2="617.30" stroke="#000" stroke-width="1.1"/>
<line x1="130.60" y1="612.90" x2="130.60" y2="617.30" stroke="#000" stroke-width="1.1"/>
<line x1="149.30" y1="612.90" x2="149.30" y2="617.30" stroke="#000" stroke-width="1.1"/>
<line x1="168.00" y1="612.90" x2="168.00" y2="617.30" stroke="#000" stroke-width="1.1"/>
<line x1="186.70" y1="612.90" x2="186.70" y2="617.30" stroke="#000" stroke-width="1.1"/>
<line x1="205.40" y1="612.90" x2="205.40" y2="617.30" stroke="#000" stroke-width="1.1"/>
<text transform="translate(34.60,625.30) rotate(-90)" font-size="12.7" text-anchor="start" fill="#111" font-weight="normal" textLength="133.00" lengthAdjust="spacingAndGlyphs">AAV copy nr. (vg / diploid cell)</text>
<text transform="translate(79.10,626.40) rotate(-45)" font-size="9.5" text-anchor="end" fill="#111" font-weight="normal">Liver</text>
<text transform="translate(97.80,626.40) rotate(-45)" font-size="9.5" text-anchor="end" fill="#111" font-weight="normal">Heart</text>
<text transform="translate(116.50,626.40) rotate(-45)" font-size="9.5" text-anchor="end" fill="#111" font-weight="normal">Spleen</text>
<text transform="translate(135.20,626.40) rotate(-45)" font-size="9.5" text-anchor="end" fill="#111" font-weight="normal">kidney</text>
<text transform="translate(153.90,626.40) rotate(-45)" font-size="9.5" text-anchor="end" fill="#111" font-weight="normal">Lung</text>
<text transform="translate(172.60,626.40) rotate(-45)" font-size="9.5" text-anchor="end" fill="#111" font-weight="normal">Brain</text>
<text transform="translate(191.30,626.40) rotate(-45)" font-size="9.5" text-anchor="end" fill="#111" font-weight="normal">Diaphragm</text>
<text transform="translate(210.00,626.40) rotate(-45)" font-size="9.5" text-anchor="end" fill="#111" font-weight="normal">Gastrocnemius</text>
<text x="267.80" y="475.00" font-size="17.5" text-anchor="start" fill="#000" font-weight="bold">F</text>
<rect x="333.50" y="497.80" width="10.10" height="7.20" fill="#2b4886"/>
<text x="347.90" y="504.10" font-size="8.2" text-anchor="start" fill="#222" font-weight="normal" textLength="47.60" lengthAdjust="spacingAndGlyphs" style="stroke:none">R338L-Padua</text>
<rect x="404.20" y="497.80" width="10.10" height="7.20" fill="#a6002f"/>
<text x="419.20" y="504.10" font-size="8.2" text-anchor="start" fill="#222" font-weight="normal" textLength="49.30" lengthAdjust="spacingAndGlyphs" style="stroke:none">CB 2679d-GT</text>
<rect x="324.60" y="552.30" width="6.20" height="60.00" fill="#2b4886"/>
<line x1="327.70" y1="546.20" x2="327.70" y2="552.30" stroke="#000" stroke-width="0.9"/>
<line x1="326.00" y1="546.20" x2="329.40" y2="546.20" stroke="#000" stroke-width="1.1"/>
<rect x="330.80" y="548.60" width="6.20" height="63.70" fill="#a6002f"/>
<line x1="333.90" y1="544.60" x2="333.90" y2="548.60" stroke="#000" stroke-width="0.9"/>
<line x1="332.20" y1="544.60" x2="335.60" y2="544.60" stroke="#000" stroke-width="1.1"/>
<rect x="343.30" y="604.60" width="6.20" height="7.70" fill="#2b4886"/>
<line x1="346.40" y1="603.50" x2="346.40" y2="604.60" stroke="#000" stroke-width="0.9"/>
<line x1="344.70" y1="603.50" x2="348.10" y2="603.50" stroke="#000" stroke-width="1.1"/>
<rect x="349.50" y="603.00" width="6.20" height="9.30" fill="#a6002f"/>
<line x1="352.60" y1="600.60" x2="352.60" y2="603.00" stroke="#000" stroke-width="0.9"/>
<line x1="350.90" y1="600.60" x2="354.30" y2="600.60" stroke="#000" stroke-width="1.1"/>
<rect x="362.00" y="603.40" width="6.20" height="8.90" fill="#2b4886"/>
<line x1="365.10" y1="601.50" x2="365.10" y2="603.40" stroke="#000" stroke-width="0.9"/>
<line x1="363.40" y1="601.50" x2="366.80" y2="601.50" stroke="#000" stroke-width="1.1"/>
<rect x="368.20" y="605.80" width="6.20" height="6.50" fill="#a6002f"/>
<line x1="371.30" y1="604.60" x2="371.30" y2="605.80" stroke="#000" stroke-width="0.9"/>
<line x1="369.60" y1="604.60" x2="373.00" y2="604.60" stroke="#000" stroke-width="1.1"/>
<rect x="380.70" y="601.20" width="6.20" height="11.10" fill="#2b4886"/>
<line x1="383.80" y1="598.50" x2="383.80" y2="601.20" stroke="#000" stroke-width="0.9"/>
<line x1="382.10" y1="598.50" x2="385.50" y2="598.50" stroke="#000" stroke-width="1.1"/>
<rect x="386.90" y="604.30" width="6.20" height="8.00" fill="#a6002f"/>
<line x1="390.00" y1="603.00" x2="390.00" y2="604.30" stroke="#000" stroke-width="0.9"/>
<line x1="388.30" y1="603.00" x2="391.70" y2="603.00" stroke="#000" stroke-width="1.1"/>
<rect x="399.40" y="603.00" width="6.20" height="9.30" fill="#2b4886"/>
<line x1="402.50" y1="601.50" x2="402.50" y2="603.00" stroke="#000" stroke-width="0.9"/>
<line x1="400.80" y1="601.50" x2="404.20" y2="601.50" stroke="#000" stroke-width="1.1"/>
<rect x="405.60" y="604.00" width="6.20" height="8.30" fill="#a6002f"/>
<line x1="408.70" y1="602.50" x2="408.70" y2="604.00" stroke="#000" stroke-width="0.9"/>
<line x1="407.00" y1="602.50" x2="410.40" y2="602.50" stroke="#000" stroke-width="1.1"/>
<rect x="418.10" y="601.80" width="6.20" height="10.50" fill="#2b4886"/>
<line x1="421.20" y1="599.40" x2="421.20" y2="601.80" stroke="#000" stroke-width="0.9"/>
<line x1="419.50" y1="599.40" x2="422.90" y2="599.40" stroke="#000" stroke-width="1.1"/>
<rect x="424.30" y="605.50" width="6.20" height="6.80" fill="#a6002f"/>
<line x1="427.40" y1="604.00" x2="427.40" y2="605.50" stroke="#000" stroke-width="0.9"/>
<line x1="425.70" y1="604.00" x2="429.10" y2="604.00" stroke="#000" stroke-width="1.1"/>
<rect x="436.80" y="605.00" width="6.20" height="7.30" fill="#2b4886"/>
<line x1="439.90" y1="603.70" x2="439.90" y2="605.00" stroke="#000" stroke-width="0.9"/>
<line x1="438.20" y1="603.70" x2="441.60" y2="603.70" stroke="#000" stroke-width="1.1"/>
<rect x="443.00" y="603.70" width="6.20" height="8.60" fill="#a6002f"/>
<line x1="446.10" y1="601.80" x2="446.10" y2="603.70" stroke="#000" stroke-width="0.9"/>
<line x1="444.40" y1="601.80" x2="447.80" y2="601.80" stroke="#000" stroke-width="1.1"/>
<rect x="455.50" y="601.50" width="6.20" height="10.80" fill="#2b4886"/>
<line x1="458.60" y1="599.40" x2="458.60" y2="601.50" stroke="#000" stroke-width="0.9"/>
<line x1="456.90" y1="599.40" x2="460.30" y2="599.40" stroke="#000" stroke-width="1.1"/>
<rect x="461.70" y="597.50" width="6.20" height="14.80" fill="#a6002f"/>
<line x1="464.80" y1="592.30" x2="464.80" y2="597.50" stroke="#000" stroke-width="0.9"/>
<line x1="463.10" y1="592.30" x2="466.50" y2="592.30" stroke="#000" stroke-width="1.1"/>
<line x1="321.60" y1="505.90" x2="321.60" y2="613.60" stroke="#000" stroke-width="1.35"/>
<line x1="317.20" y1="612.90" x2="321.60" y2="612.90" stroke="#000" stroke-width="1.1"/>
<text x="312.20" y="615.80" font-size="10.2" text-anchor="end" fill="#111" font-weight="normal" textLength="12.05" lengthAdjust="spacingAndGlyphs">0.0</text>
<line x1="317.20" y1="578.57" x2="321.60" y2="578.57" stroke="#000" stroke-width="1.1"/>
<text x="312.20" y="581.47" font-size="10.2" text-anchor="end" fill="#111" font-weight="normal" textLength="12.05" lengthAdjust="spacingAndGlyphs">0.5</text>
<line x1="317.20" y1="544.23" x2="321.60" y2="544.23" stroke="#000" stroke-width="1.1"/>
<text x="312.20" y="547.13" font-size="10.2" text-anchor="end" fill="#111" font-weight="normal" textLength="12.05" lengthAdjust="spacingAndGlyphs">1.0</text>
<line x1="317.20" y1="509.90" x2="321.60" y2="509.90" stroke="#000" stroke-width="1.1"/>
<text x="312.20" y="512.80" font-size="10.2" text-anchor="end" fill="#111" font-weight="normal" textLength="12.05" lengthAdjust="spacingAndGlyphs">1.5</text>
<line x1="320.90" y1="612.90" x2="471.00" y2="612.90" stroke="#000" stroke-width="1.35"/>
<line x1="330.80" y1="612.90" x2="330.80" y2="617.30" stroke="#000" stroke-width="1.1"/>
<line x1="349.50" y1="612.90" x2="349.50" y2="617.30" stroke="#000" stroke-width="1.1"/>
<line x1="368.20" y1="612.90" x2="368.20" y2="617.30" stroke="#000" stroke-width="1.1"/>
<line x1="386.90" y1="612.90" x2="386.90" y2="617.30" stroke="#000" stroke-width="1.1"/>
<line x1="405.60" y1="612.90" x2="405.60" y2="617.30" stroke="#000" stroke-width="1.1"/>
<line x1="424.30" y1="612.90" x2="424.30" y2="617.30" stroke="#000" stroke-width="1.1"/>
<line x1="443.00" y1="612.90" x2="443.00" y2="617.30" stroke="#000" stroke-width="1.1"/>
<line x1="461.70" y1="612.90" x2="461.70" y2="617.30" stroke="#000" stroke-width="1.1"/>
<text transform="translate(290.90,625.30) rotate(-90)" font-size="12.7" text-anchor="start" fill="#111" font-weight="normal" textLength="133.00" lengthAdjust="spacingAndGlyphs">AAV copy nr. (vg / diploid cell)</text>
<text transform="translate(335.40,626.40) rotate(-45)" font-size="9.5" text-anchor="end" fill="#111" font-weight="normal">Liver</text>
<text transform="translate(354.10,626.40) rotate(-45)" font-size="9.5" text-anchor="end" fill="#111" font-weight="normal">Heart</text>
<text transform="translate(372.80,626.40) rotate(-45)" font-size="9.5" text-anchor="end" fill="#111" font-weight="normal">Spleen</text>
<text transform="translate(391.50,626.40) rotate(-45)" font-size="9.5" text-anchor="end" fill="#111" font-weight="normal">kidney</text>
<text transform="translate(410.20,626.40) rotate(-45)" font-size="9.5" text-anchor="end" fill="#111" font-weight="normal">Lung</text>
<text transform="translate(428.90,626.40) rotate(-45)" font-size="9.5" text-anchor="end" fill="#111" font-weight="normal">Brain</text>
<text transform="translate(447.60,626.40) rotate(-45)" font-size="9.5" text-anchor="end" fill="#111" font-weight="normal">Diaphragm</text>
<text transform="translate(466.30,626.40) rotate(-45)" font-size="9.5" text-anchor="end" fill="#111" font-weight="normal">Gastrocnemius</text>
<text x="11.00" y="702.50" font-size="17.5" text-anchor="start" fill="#000" font-weight="bold">G</text>
<rect x="76.30" y="724.60" width="10.10" height="7.20" fill="#2b4886"/>
<text x="90.70" y="730.90" font-size="8.2" text-anchor="start" fill="#222" font-weight="normal" textLength="47.60" lengthAdjust="spacingAndGlyphs" style="stroke:none">R338L-Padua</text>
<rect x="147.00" y="724.60" width="10.10" height="7.20" fill="#a6002f"/>
<text x="162.00" y="730.90" font-size="8.2" text-anchor="start" fill="#222" font-weight="normal" textLength="49.30" lengthAdjust="spacingAndGlyphs" style="stroke:none">CB 2679d-GT</text>
<rect x="68.40" y="754.50" width="6.20" height="84.90" fill="#2b4886"/>
<line x1="69.80" y1="754.20" x2="73.20" y2="754.20" stroke="#000" stroke-width="1.0"/>
<rect x="74.60" y="754.50" width="6.20" height="84.90" fill="#a6002f"/>
<line x1="76.00" y1="754.20" x2="79.40" y2="754.20" stroke="#000" stroke-width="1.0"/>
<rect x="87.10" y="839.00" width="6.20" height="0.40" fill="#2b4886"/>
<line x1="88.50" y1="838.70" x2="91.90" y2="838.70" stroke="#000" stroke-width="1.0"/>
<rect x="93.30" y="839.00" width="6.20" height="0.40" fill="#a6002f"/>
<line x1="94.70" y1="838.70" x2="98.10" y2="838.70" stroke="#000" stroke-width="1.0"/>
<rect x="105.80" y="838.60" width="6.20" height="0.80" fill="#2b4886"/>
<line x1="107.20" y1="838.30" x2="110.60" y2="838.30" stroke="#000" stroke-width="1.0"/>
<rect x="112.00" y="837.70" width="6.20" height="1.70" fill="#a6002f"/>
<line x1="113.40" y1="837.40" x2="116.80" y2="837.40" stroke="#000" stroke-width="1.0"/>
<rect x="124.50" y="839.00" width="6.20" height="0.40" fill="#2b4886"/>
<line x1="125.90" y1="838.70" x2="129.30" y2="838.70" stroke="#000" stroke-width="1.0"/>
<rect x="130.70" y="837.70" width="6.20" height="1.70" fill="#a6002f"/>
<line x1="132.10" y1="837.40" x2="135.50" y2="837.40" stroke="#000" stroke-width="1.0"/>
<rect x="143.20" y="839.00" width="6.20" height="0.40" fill="#2b4886"/>
<line x1="144.60" y1="838.70" x2="148.00" y2="838.70" stroke="#000" stroke-width="1.0"/>
<rect x="149.40" y="839.00" width="6.20" height="0.40" fill="#a6002f"/>
<line x1="150.80" y1="838.70" x2="154.20" y2="838.70" stroke="#000" stroke-width="1.0"/>
<rect x="161.90" y="838.60" width="6.20" height="0.80" fill="#2b4886"/>
<line x1="163.30" y1="838.30" x2="166.70" y2="838.30" stroke="#000" stroke-width="1.0"/>
<rect x="168.10" y="838.80" width="6.20" height="0.60" fill="#a6002f"/>
<line x1="169.50" y1="838.50" x2="172.90" y2="838.50" stroke="#000" stroke-width="1.0"/>
<rect x="180.60" y="837.30" width="6.20" height="2.10" fill="#2b4886"/>
<line x1="182.00" y1="837.00" x2="185.40" y2="837.00" stroke="#000" stroke-width="1.0"/>
<rect x="186.80" y="835.00" width="6.20" height="4.40" fill="#a6002f"/>
<line x1="189.90" y1="832.70" x2="189.90" y2="835.00" stroke="#000" stroke-width="0.9"/>
<line x1="188.20" y1="832.70" x2="191.60" y2="832.70" stroke="#000" stroke-width="1.1"/>
<rect x="199.30" y="838.80" width="6.20" height="0.60" fill="#2b4886"/>
<line x1="200.70" y1="838.50" x2="204.10" y2="838.50" stroke="#000" stroke-width="1.0"/>
<rect x="205.50" y="838.80" width="6.20" height="0.60" fill="#a6002f"/>
<line x1="206.90" y1="838.50" x2="210.30" y2="838.50" stroke="#000" stroke-width="1.0"/>
<line x1="65.00" y1="733.20" x2="65.00" y2="840.70" stroke="#000" stroke-width="1.35"/>
<line x1="60.60" y1="840.00" x2="65.00" y2="840.00" stroke="#000" stroke-width="1.1"/>
<text x="55.60" y="842.90" font-size="10.2" text-anchor="end" fill="#111" font-weight="normal" textLength="12.05" lengthAdjust="spacingAndGlyphs">0.0</text>
<line x1="60.60" y1="822.87" x2="65.00" y2="822.87" stroke="#000" stroke-width="1.1"/>
<text x="55.60" y="825.77" font-size="10.2" text-anchor="end" fill="#111" font-weight="normal" textLength="12.05" lengthAdjust="spacingAndGlyphs">0.2</text>
<line x1="60.60" y1="805.73" x2="65.00" y2="805.73" stroke="#000" stroke-width="1.1"/>
<text x="55.60" y="808.63" font-size="10.2" text-anchor="end" fill="#111" font-weight="normal" textLength="12.05" lengthAdjust="spacingAndGlyphs">0.4</text>
<line x1="60.60" y1="788.60" x2="65.00" y2="788.60" stroke="#000" stroke-width="1.1"/>
<text x="55.60" y="791.50" font-size="10.2" text-anchor="end" fill="#111" font-weight="normal" textLength="12.05" lengthAdjust="spacingAndGlyphs">0.6</text>
<line x1="60.60" y1="771.47" x2="65.00" y2="771.47" stroke="#000" stroke-width="1.1"/>
<text x="55.60" y="774.37" font-size="10.2" text-anchor="end" fill="#111" font-weight="normal" textLength="12.05" lengthAdjust="spacingAndGlyphs">0.8</text>
<line x1="60.60" y1="754.33" x2="65.00" y2="754.33" stroke="#000" stroke-width="1.1"/>
<text x="55.60" y="757.23" font-size="10.2" text-anchor="end" fill="#111" font-weight="normal" textLength="12.05" lengthAdjust="spacingAndGlyphs">1.0</text>
<line x1="60.60" y1="737.20" x2="65.00" y2="737.20" stroke="#000" stroke-width="1.1"/>
<text x="55.60" y="740.10" font-size="10.2" text-anchor="end" fill="#111" font-weight="normal" textLength="12.05" lengthAdjust="spacingAndGlyphs">1.2</text>
<line x1="64.30" y1="840.00" x2="214.80" y2="840.00" stroke="#000" stroke-width="1.35"/>
<line x1="74.60" y1="840.00" x2="74.60" y2="844.40" stroke="#000" stroke-width="1.1"/>
<line x1="93.30" y1="840.00" x2="93.30" y2="844.40" stroke="#000" stroke-width="1.1"/>
<line x1="112.00" y1="840.00" x2="112.00" y2="844.40" stroke="#000" stroke-width="1.1"/>
<line x1="130.70" y1="840.00" x2="130.70" y2="844.40" stroke="#000" stroke-width="1.1"/>
<line x1="149.40" y1="840.00" x2="149.40" y2="844.40" stroke="#000" stroke-width="1.1"/>
<line x1="168.10" y1="840.00" x2="168.10" y2="844.40" stroke="#000" stroke-width="1.1"/>
<line x1="186.80" y1="840.00" x2="186.80" y2="844.40" stroke="#000" stroke-width="1.1"/>
<line x1="205.50" y1="840.00" x2="205.50" y2="844.40" stroke="#000" stroke-width="1.1"/>
<text transform="translate(34.60,839.60) rotate(-90)" font-size="12.7" text-anchor="start" fill="#111" font-weight="normal" textLength="107.00" lengthAdjust="spacingAndGlyphs">Relative RNA expression</text>
<text transform="translate(79.20,853.50) rotate(-45)" font-size="9.5" text-anchor="end" fill="#111" font-weight="normal">Liver</text>
<text transform="translate(97.90,853.50) rotate(-45)" font-size="9.5" text-anchor="end" fill="#111" font-weight="normal">Heart</text>
<text transform="translate(116.60,853.50) rotate(-45)" font-size="9.5" text-anchor="end" fill="#111" font-weight="normal">Spleen</text>
<text transform="translate(135.30,853.50) rotate(-45)" font-size="9.5" text-anchor="end" fill="#111" font-weight="normal">kidney</text>
<text transform="translate(154.00,853.50) rotate(-45)" font-size="9.5" text-anchor="end" fill="#111" font-weight="normal">Lung</text>
<text transform="translate(172.70,853.50) rotate(-45)" font-size="9.5" text-anchor="end" fill="#111" font-weight="normal">Brain</text>
<text transform="translate(191.40,853.50) rotate(-45)" font-size="9.5" text-anchor="end" fill="#111" font-weight="normal">Diaphragm</text>
<text transform="translate(210.10,853.50) rotate(-45)" font-size="9.5" text-anchor="end" fill="#111" font-weight="normal">Gastrocnemius</text>
<text x="267.80" y="702.50" font-size="17.5" text-anchor="start" fill="#000" font-weight="bold">H</text>
<rect x="332.60" y="724.60" width="10.10" height="7.20" fill="#2b4886"/>
<text x="347.00" y="730.90" font-size="8.2" text-anchor="start" fill="#222" font-weight="normal" textLength="47.60" lengthAdjust="spacingAndGlyphs" style="stroke:none">R338L-Padua</text>
<rect x="403.30" y="724.60" width="10.10" height="7.20" fill="#a6002f"/>
<text x="418.30" y="730.90" font-size="8.2" text-anchor="start" fill="#222" font-weight="normal" textLength="49.30" lengthAdjust="spacingAndGlyphs" style="stroke:none">CB 2679d-GT</text>
<rect x="324.70" y="755.00" width="6.20" height="84.40" fill="#2b4886"/>
<line x1="326.10" y1="754.70" x2="329.50" y2="754.70" stroke="#000" stroke-width="1.0"/>
<rect x="330.90" y="755.00" width="6.20" height="84.40" fill="#a6002f"/>
<line x1="332.30" y1="754.70" x2="335.70" y2="754.70" stroke="#000" stroke-width="1.0"/>
<rect x="343.40" y="839.00" width="6.20" height="0.40" fill="#2b4886"/>
<line x1="344.80" y1="838.70" x2="348.20" y2="838.70" stroke="#000" stroke-width="1.0"/>
<rect x="349.60" y="839.00" width="6.20" height="0.40" fill="#a6002f"/>
<line x1="351.00" y1="838.70" x2="354.40" y2="838.70" stroke="#000" stroke-width="1.0"/>
<rect x="362.10" y="837.00" width="6.20" height="2.40" fill="#2b4886"/>
<line x1="363.50" y1="836.70" x2="366.90" y2="836.70" stroke="#000" stroke-width="1.0"/>
<rect x="368.30" y="835.40" width="6.20" height="4.00" fill="#a6002f"/>
<line x1="371.40" y1="833.50" x2="371.40" y2="835.40" stroke="#000" stroke-width="0.9"/>
<line x1="369.70" y1="833.50" x2="373.10" y2="833.50" stroke="#000" stroke-width="1.1"/>
<rect x="380.80" y="839.00" width="6.20" height="0.40" fill="#2b4886"/>
<line x1="382.20" y1="838.70" x2="385.60" y2="838.70" stroke="#000" stroke-width="1.0"/>
<rect x="387.00" y="839.00" width="6.20" height="0.40" fill="#a6002f"/>
<line x1="388.40" y1="838.70" x2="391.80" y2="838.70" stroke="#000" stroke-width="1.0"/>
<rect x="399.50" y="838.00" width="6.20" height="1.40" fill="#2b4886"/>
<line x1="400.90" y1="837.70" x2="404.30" y2="837.70" stroke="#000" stroke-width="1.0"/>
<rect x="405.70" y="836.50" width="6.20" height="2.90" fill="#a6002f"/>
<line x1="408.80" y1="835.00" x2="408.80" y2="836.50" stroke="#000" stroke-width="0.9"/>
<line x1="407.10" y1="835.00" x2="410.50" y2="835.00" stroke="#000" stroke-width="1.1"/>
<rect x="418.20" y="839.00" width="6.20" height="0.40" fill="#2b4886"/>
<line x1="419.60" y1="838.70" x2="423.00" y2="838.70" stroke="#000" stroke-width="1.0"/>
<rect x="424.40" y="836.50" width="6.20" height="2.90" fill="#a6002f"/>
<line x1="427.50" y1="834.50" x2="427.50" y2="836.50" stroke="#000" stroke-width="0.9"/>
<line x1="425.80" y1="834.50" x2="429.20" y2="834.50" stroke="#000" stroke-width="1.1"/>
<rect x="436.90" y="834.60" width="6.20" height="4.80" fill="#2b4886"/>
<line x1="440.00" y1="831.00" x2="440.00" y2="834.60" stroke="#000" stroke-width="0.9"/>
<line x1="438.30" y1="831.00" x2="441.70" y2="831.00" stroke="#000" stroke-width="1.1"/>
<rect x="443.10" y="833.80" width="6.20" height="5.60" fill="#a6002f"/>
<line x1="446.20" y1="829.20" x2="446.20" y2="833.80" stroke="#000" stroke-width="0.9"/>
<line x1="444.50" y1="829.20" x2="447.90" y2="829.20" stroke="#000" stroke-width="1.1"/>
<rect x="455.60" y="838.60" width="6.20" height="0.80" fill="#2b4886"/>
<line x1="457.00" y1="838.30" x2="460.40" y2="838.30" stroke="#000" stroke-width="1.0"/>
<rect x="461.80" y="837.70" width="6.20" height="1.70" fill="#a6002f"/>
<line x1="463.20" y1="837.40" x2="466.60" y2="837.40" stroke="#000" stroke-width="1.0"/>
<line x1="321.30" y1="733.20" x2="321.30" y2="840.70" stroke="#000" stroke-width="1.35"/>
<line x1="316.90" y1="840.00" x2="321.30" y2="840.00" stroke="#000" stroke-width="1.1"/>
<text x="311.90" y="842.90" font-size="10.2" text-anchor="end" fill="#111" font-weight="normal" textLength="12.05" lengthAdjust="spacingAndGlyphs">0.0</text>
<line x1="316.90" y1="822.87" x2="321.30" y2="822.87" stroke="#000" stroke-width="1.1"/>
<text x="311.90" y="825.77" font-size="10.2" text-anchor="end" fill="#111" font-weight="normal" textLength="12.05" lengthAdjust="spacingAndGlyphs">0.2</text>
<line x1="316.90" y1="805.73" x2="321.30" y2="805.73" stroke="#000" stroke-width="1.1"/>
<text x="311.90" y="808.63" font-size="10.2" text-anchor="end" fill="#111" font-weight="normal" textLength="12.05" lengthAdjust="spacingAndGlyphs">0.4</text>
<line x1="316.90" y1="788.60" x2="321.30" y2="788.60" stroke="#000" stroke-width="1.1"/>
<text x="311.90" y="791.50" font-size="10.2" text-anchor="end" fill="#111" font-weight="normal" textLength="12.05" lengthAdjust="spacingAndGlyphs">0.6</text>
<line x1="316.90" y1="771.47" x2="321.30" y2="771.47" stroke="#000" stroke-width="1.1"/>
<text x="311.90" y="774.37" font-size="10.2" text-anchor="end" fill="#111" font-weight="normal" textLength="12.05" lengthAdjust="spacingAndGlyphs">0.8</text>
<line x1="316.90" y1="754.33" x2="321.30" y2="754.33" stroke="#000" stroke-width="1.1"/>
<text x="311.90" y="757.23" font-size="10.2" text-anchor="end" fill="#111" font-weight="normal" textLength="12.05" lengthAdjust="spacingAndGlyphs">1.0</text>
<line x1="316.90" y1="737.20" x2="321.30" y2="737.20" stroke="#000" stroke-width="1.1"/>
<text x="311.90" y="740.10" font-size="10.2" text-anchor="end" fill="#111" font-weight="normal" textLength="12.05" lengthAdjust="spacingAndGlyphs">1.2</text>
<line x1="320.60" y1="840.00" x2="471.10" y2="840.00" stroke="#000" stroke-width="1.35"/>
<line x1="330.90" y1="840.00" x2="330.90" y2="844.40" stroke="#000" stroke-width="1.1"/>
<line x1="349.60" y1="840.00" x2="349.60" y2="844.40" stroke="#000" stroke-width="1.1"/>
<line x1="368.30" y1="840.00" x2="368.30" y2="844.40" stroke="#000" stroke-width="1.1"/>
<line x1="387.00" y1="840.00" x2="387.00" y2="844.40" stroke="#000" stroke-width="1.1"/>
<line x1="405.70" y1="840.00" x2="405.70" y2="844.40" stroke="#000" stroke-width="1.1"/>
<line x1="424.40" y1="840.00" x2="424.40" y2="844.40" stroke="#000" stroke-width="1.1"/>
<line x1="443.10" y1="840.00" x2="443.10" y2="844.40" stroke="#000" stroke-width="1.1"/>
<line x1="461.80" y1="840.00" x2="461.80" y2="844.40" stroke="#000" stroke-width="1.1"/>
<text transform="translate(290.90,839.60) rotate(-90)" font-size="12.7" text-anchor="start" fill="#111" font-weight="normal" textLength="107.00" lengthAdjust="spacingAndGlyphs">Relative RNA expression</text>
<text transform="translate(335.50,853.50) rotate(-45)" font-size="9.5" text-anchor="end" fill="#111" font-weight="normal">Liver</text>
<text transform="translate(354.20,853.50) rotate(-45)" font-size="9.5" text-anchor="end" fill="#111" font-weight="normal">Heart</text>
<text transform="translate(372.90,853.50) rotate(-45)" font-size="9.5" text-anchor="end" fill="#111" font-weight="normal">Spleen</text>
<text transform="translate(391.60,853.50) rotate(-45)" font-size="9.5" text-anchor="end" fill="#111" font-weight="normal">kidney</text>
<text transform="translate(410.30,853.50) rotate(-45)" font-size="9.5" text-anchor="end" fill="#111" font-weight="normal">Lung</text>
<text transform="translate(429.00,853.50) rotate(-45)" font-size="9.5" text-anchor="end" fill="#111" font-weight="normal">Brain</text>
<text transform="translate(447.70,853.50) rotate(-45)" font-size="9.5" text-anchor="end" fill="#111" font-weight="normal">Diaphragm</text>
<text transform="translate(466.40,853.50) rotate(-45)" font-size="9.5" text-anchor="end" fill="#111" font-weight="normal">Gastrocnemius</text>
</svg>
</body></html>
